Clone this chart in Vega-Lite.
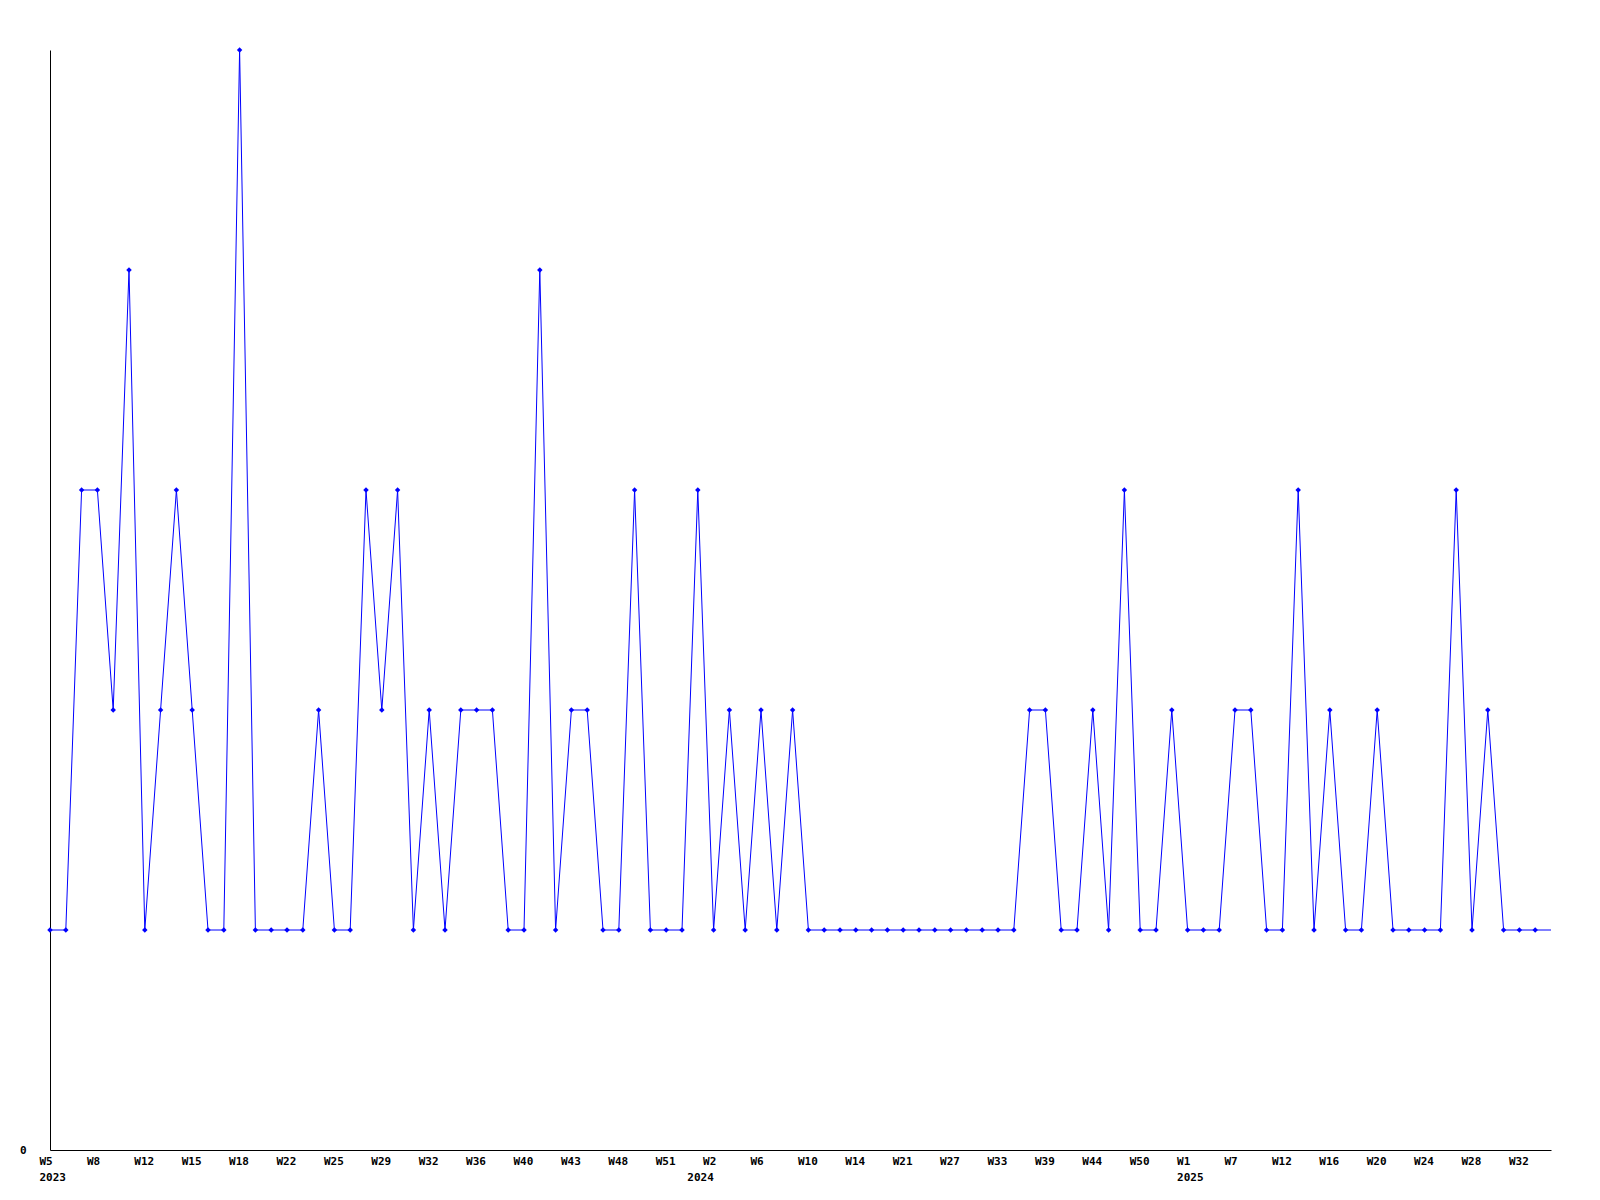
{
  "$schema": "https://vega.github.io/schema/vega-lite/v6.json",
  "autosize": {"type": "none"},
  "padding": {"left": 50, "top": 50, "right": 49, "bottom": 50},
  "width": 1501,
  "height": 1100,
  "background": "white",
  "config": {"view": {"stroke": null}},
  "data": {"values": [
    {"week": "2023-W5", "count": 1},
    {"week": "2023-W6", "count": 1},
    {"week": "2023-W7", "count": 3},
    {"week": "2023-W8", "count": 3},
    {"week": "2023-W9", "count": 2},
    {"week": "2023-W10", "count": 4},
    {"week": "2023-W12", "count": 1},
    {"week": "2023-W13", "count": 2},
    {"week": "2023-W14", "count": 3},
    {"week": "2023-W15", "count": 2},
    {"week": "2023-W16", "count": 1},
    {"week": "2023-W17", "count": 1},
    {"week": "2023-W18", "count": 5},
    {"week": "2023-W19", "count": 1},
    {"week": "2023-W20", "count": 1},
    {"week": "2023-W22", "count": 1},
    {"week": "2023-W23", "count": 1},
    {"week": "2023-W24", "count": 2},
    {"week": "2023-W25", "count": 1},
    {"week": "2023-W26", "count": 1},
    {"week": "2023-W27", "count": 3},
    {"week": "2023-W29", "count": 2},
    {"week": "2023-W30", "count": 3},
    {"week": "2023-W31", "count": 1},
    {"week": "2023-W32", "count": 2},
    {"week": "2023-W33", "count": 1},
    {"week": "2023-W34", "count": 2},
    {"week": "2023-W36", "count": 2},
    {"week": "2023-W37", "count": 2},
    {"week": "2023-W38", "count": 1},
    {"week": "2023-W40", "count": 1},
    {"week": "2023-W41", "count": 4},
    {"week": "2023-W42", "count": 1},
    {"week": "2023-W43", "count": 2},
    {"week": "2023-W44", "count": 2},
    {"week": "2023-W46", "count": 1},
    {"week": "2023-W48", "count": 1},
    {"week": "2023-W49", "count": 3},
    {"week": "2023-W50", "count": 1},
    {"week": "2023-W51", "count": 1},
    {"week": "2023-W52", "count": 1},
    {"week": "2024-W1", "count": 3},
    {"week": "2024-W2", "count": 1},
    {"week": "2024-W3", "count": 2},
    {"week": "2024-W4", "count": 1},
    {"week": "2024-W6", "count": 2},
    {"week": "2024-W7", "count": 1},
    {"week": "2024-W8", "count": 2},
    {"week": "2024-W10", "count": 1},
    {"week": "2024-W11", "count": 1},
    {"week": "2024-W12", "count": 1},
    {"week": "2024-W14", "count": 1},
    {"week": "2024-W16", "count": 1},
    {"week": "2024-W18", "count": 1},
    {"week": "2024-W21", "count": 1},
    {"week": "2024-W23", "count": 1},
    {"week": "2024-W25", "count": 1},
    {"week": "2024-W27", "count": 1},
    {"week": "2024-W29", "count": 1},
    {"week": "2024-W31", "count": 1},
    {"week": "2024-W33", "count": 1},
    {"week": "2024-W35", "count": 1},
    {"week": "2024-W37", "count": 2},
    {"week": "2024-W39", "count": 2},
    {"week": "2024-W41", "count": 1},
    {"week": "2024-W42", "count": 1},
    {"week": "2024-W44", "count": 2},
    {"week": "2024-W46", "count": 1},
    {"week": "2024-W48", "count": 3},
    {"week": "2024-W50", "count": 1},
    {"week": "2024-W51", "count": 1},
    {"week": "2024-W52", "count": 2},
    {"week": "2025-W1", "count": 1},
    {"week": "2025-W3", "count": 1},
    {"week": "2025-W5", "count": 1},
    {"week": "2025-W7", "count": 2},
    {"week": "2025-W9", "count": 2},
    {"week": "2025-W10", "count": 1},
    {"week": "2025-W12", "count": 1},
    {"week": "2025-W13", "count": 3},
    {"week": "2025-W15", "count": 1},
    {"week": "2025-W16", "count": 2},
    {"week": "2025-W17", "count": 1},
    {"week": "2025-W19", "count": 1},
    {"week": "2025-W20", "count": 2},
    {"week": "2025-W21", "count": 1},
    {"week": "2025-W23", "count": 1},
    {"week": "2025-W24", "count": 1},
    {"week": "2025-W26", "count": 1},
    {"week": "2025-W27", "count": 3},
    {"week": "2025-W28", "count": 1},
    {"week": "2025-W30", "count": 2},
    {"week": "2025-W31", "count": 1},
    {"week": "2025-W32", "count": 1},
    {"week": "2025-W33", "count": 1},
    {"week": "2025-W34", "count": 1}
  ]},
  "encoding": {
    "x": {
      "field": "week",
      "type": "ordinal",
      "sort": null,
      "scale": {"type": "point", "padding": 0},
      "axis": {
        "title": null,
        "values": ["2023-W5","2023-W8","2023-W12","2023-W15","2023-W18","2023-W22","2023-W25","2023-W29","2023-W32","2023-W36","2023-W40","2023-W43","2023-W48","2023-W51","2024-W1","2024-W2","2024-W6","2024-W10","2024-W14","2024-W21","2024-W27","2024-W33","2024-W39","2024-W44","2024-W50","2025-W1","2025-W7","2025-W12","2025-W16","2025-W20","2025-W24","2025-W28","2025-W32"],
        "labelExpr": "datum.value == '2024-W1' ? [' ', '2024'] : (indexof(['2023-W5','2025-W1'], datum.value) >= 0 ? [split(datum.value,'-')[1], split(datum.value,'-')[0]] : split(datum.value,'-')[1])",
        "labelAngle": 0,
        "labelAlign": "left",
        "labelBaseline": "top",
        "labelOffset": -11,
        "labelPadding": 5,
        "labelLineHeight": 16,
        "labelOverlap": false,
        "labelBound": false,
        "labelFlush": false,
        "labelFont": "DejaVu Sans Mono",
        "labelFontWeight": "bold",
        "labelFontSize": 11,
        "labelColor": "black",
        "ticks": false,
        "grid": false,
        "domainColor": "black",
        "domainWidth": 1
      }
    },
    "y": {
      "field": "count",
      "type": "quantitative",
      "scale": {"domain": [0, 5], "nice": false, "zero": true},
      "axis": {
        "title": null,
        "values": [0],
        "ticks": false,
        "grid": false,
        "labelPadding": 24,
        "labelFont": "DejaVu Sans Mono",
        "labelFontWeight": "bold",
        "labelFontSize": 11,
        "labelColor": "black",
        "domainColor": "black",
        "domainWidth": 1
      }
    }
  },
  "layer": [
    {"mark": {"type": "line", "color": "#0000ff", "strokeWidth": 1}},
    {
      "transform": [{"filter": "datum.week != '2025-W34'"}],
      "mark": {"type": "point", "shape": "diamond", "filled": true, "color": "#0000ff", "size": 30, "opacity": 1}
    }
  ]
}
